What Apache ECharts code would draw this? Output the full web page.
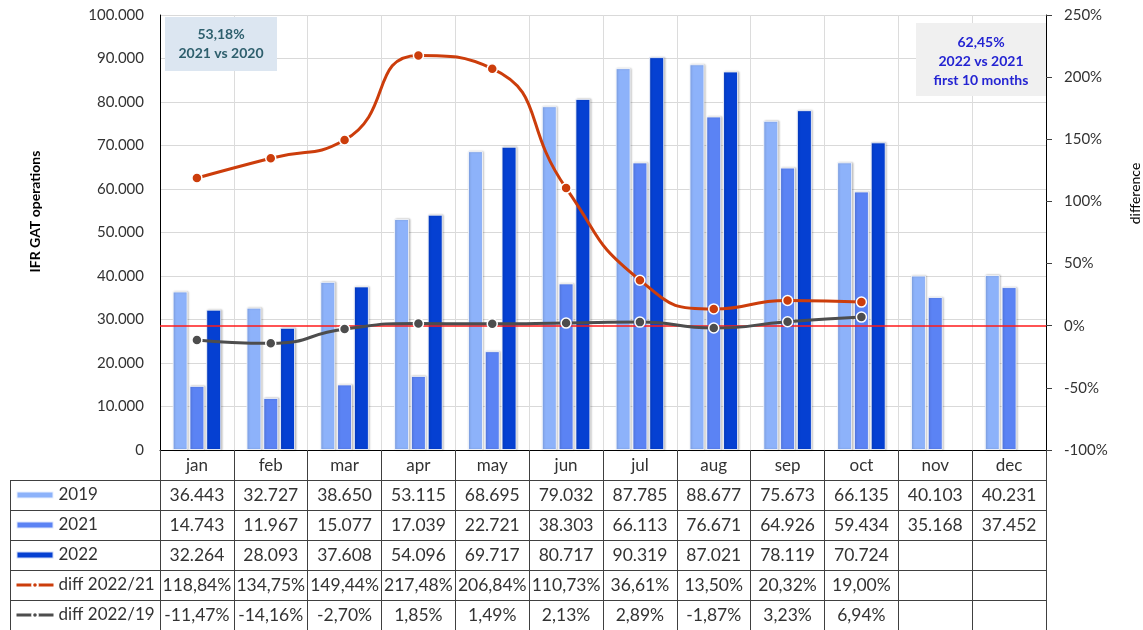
<!DOCTYPE html>
<html>
<head>
<meta charset="utf-8">
<script src="https://cdn.jsdelivr.net/npm/echarts@6/dist/echarts.min.js"></script>
<style>
html,body{margin:0;padding:0;background:#fff;}
#c{width:1143px;height:630px;}
</style>
</head>
<body>
<div id="c"></div>
<script>
var months = ['jan','feb','mar','apr','may','jun','jul','aug','sep','oct','nov','dec'];
var ops2019 = [36443, 32727, 38650, 53115, 68695, 79032, 87785, 88677, 75673, 66135, 40103, 40231];
var ops2021 = [14743, 11967, 15077, 17039, 22721, 38303, 66113, 76671, 64926, 59434, 35168, 37452];
var ops2022 = [32264, 28093, 37608, 54096, 69717, 80717, 90319, 87021, 78119, 70724, null, null];
var diff2221 = [118.84, 134.75, 149.44, 217.48, 206.84, 110.73, 36.61, 13.50, 20.32, 19.00, null, null];
var diff2219 = [-11.47, -14.16, -2.70, 1.85, 1.49, 2.13, 2.89, -1.87, 3.23, 6.94, null, null];
var leftTicks = {min: 0, max: 100000, interval: 10000};
var rightTicks = {min: -100, max: 250, interval: 50};
var note1 = ['53,18%', '2021 vs 2020'];
var note2 = ['62,45%', '2022 vs 2021', 'first 10 months'];

var FONT = 'Lato, "Noto Sans", sans-serif';
function fmtInt(v) {
  if (v === null || v === undefined) return '';
  if (v < 1000) return String(v);
  var th = Math.floor(v / 1000), r = v % 1000;
  return th + '.' + ('00' + r).slice(-3);
}
function fmtPct(v) {
  if (v === null || v === undefined) return '';
  return v.toFixed(2).replace('.', ',') + '%';
}

var W = 1143, H = 630;
var gL = 160, gR = 97, gT = 15, gB = 180;
var rowH = 30;
var axisY = H - gB;

var rows = [ops2019.map(fmtInt), ops2021.map(fmtInt), ops2022.map(fmtInt), diff2221.map(fmtPct), diff2219.map(fmtPct)];

var xAxes = [{
  type: 'category', data: months, gridIndex: 0, position: 'bottom',
  axisLine: {show: true, onZero: false, lineStyle: {color: '#000', width: 1}},
  axisTick: {show: true, length: rowH, interval: 0, lineStyle: {color: '#404040'}},
  axisLabel: {margin: 7, fontSize: 17, color: '#333', fontFamily: FONT, interval: 0},
  splitLine: {show: true, interval: 0, lineStyle: {color: '#dcdcdc'}}
}];
rows.forEach(function (r, k) {
  xAxes.push({
    type: 'category', data: r, gridIndex: 0, position: 'bottom', offset: rowH * (k + 1),
    axisLine: {show: true, onZero: false, lineStyle: {color: '#404040', width: 1}},
    axisTick: {show: true, length: rowH, interval: 0, lineStyle: {color: '#404040'}},
    axisLabel: {margin: 6, fontSize: 17.5, color: '#333', fontFamily: FONT, interval: 0},
    splitLine: {show: false}
  });
});

var graphics = [];
for (var k = 1; k <= 5; k++) {
  graphics.push({type: 'line', shape: {x1: 10, y1: axisY + rowH * k + 0.5, x2: gL, y2: axisY + rowH * k + 0.5}, style: {stroke: '#404040', lineWidth: 1}, silent: true});
}
graphics.push({type: 'line', shape: {x1: 10.5, y1: axisY + rowH, x2: 10.5, y2: H}, style: {stroke: '#404040', lineWidth: 1}, silent: true});
graphics.push({type: 'rect', shape: {x: 165, y: 17, width: 112, height: 54}, style: {fill: '#dce6f1'}, z: 100, silent: true});
graphics.push({type: 'text', x: 221, y: 44, style: {text: note1.join('\n'), font: 'bold 14px ' + FONT, fill: '#2e5f6d', textAlign: 'center', textVerticalAlign: 'middle', lineHeight: 19}, z: 101, silent: true});
graphics.push({type: 'rect', shape: {x: 916, y: 23, width: 130, height: 73}, style: {fill: '#f0f0f0'}, z: 100, silent: true});
graphics.push({type: 'text', x: 981, y: 61, style: {text: note2.join('\n'), font: 'bold 14px ' + FONT, fill: '#2424d2', textAlign: 'center', textVerticalAlign: 'middle', lineHeight: 19}, z: 101, silent: true});

var barStyle = function (c) {
  return {color: c, borderColor: 'rgba(255,255,255,0.8)', borderWidth: 1, shadowColor: 'rgba(0,0,0,0.25)', shadowBlur: 2, shadowOffsetX: 1};
};

var option = {
  animation: false,
  backgroundColor: '#fff',
  textStyle: {fontFamily: FONT},
  grid: {left: gL, right: gR, top: gT, bottom: gB, containLabel: false, outerBoundsMode: 'none'},
  legend: {
    orient: 'vertical', left: 15, top: axisY + rowH, padding: 0,
    itemWidth: 37, itemHeight: 7, itemGap: 0,
    lineStyle: {width: 3},
    textStyle: {fontSize: 17, color: '#333', fontFamily: FONT, lineHeight: 30},
    data: [
      {name: '2019', icon: 'rect'},
      {name: '2021', icon: 'rect'},
      {name: '2022', icon: 'rect'},
      {name: 'diff 2022/21'},
      {name: 'diff 2022/19'}
    ],
    selectedMode: false
  },
  xAxis: xAxes,
  yAxis: [{
    type: 'value', min: leftTicks.min, max: leftTicks.max, interval: leftTicks.interval,
    name: 'IFR GAT operations', nameLocation: 'middle', nameGap: 118, nameRotate: 90,
    nameTextStyle: {fontSize: 14, fontWeight: 'bold', color: '#000', fontFamily: FONT, padding: [0, 0, 0, 42]},
    axisLine: {show: true, lineStyle: {color: '#000'}},
    axisTick: {show: false},
    axisLabel: {margin: 16, fontSize: 15, color: '#333', fontFamily: FONT, formatter: function (v) { return fmtInt(v); }},
    splitLine: {show: true, lineStyle: {color: '#d9d9d9'}}
  }, {
    type: 'value', position: 'right', min: rightTicks.min, max: rightTicks.max, interval: rightTicks.interval,
    name: 'difference', nameLocation: 'middle', nameGap: 82, nameRotate: 90,
    nameTextStyle: {fontSize: 14, color: '#000', fontFamily: FONT, padding: [0, 0, 0, 78]},
    axisLine: {show: true, lineStyle: {color: '#000'}},
    axisTick: {show: true, length: 6, lineStyle: {color: '#404040'}},
    axisLabel: {margin: 18, fontSize: 15, color: '#333', fontFamily: FONT, formatter: function (v) { return v + '%'; }},
    splitLine: {show: false}
  }],
  graphic: graphics,
  series: [
    {name: '2019', type: 'bar', data: ops2019, barWidth: 15, barGap: '12%', itemStyle: barStyle('#8db2fa')},
    {name: '2021', type: 'bar', data: ops2021, barWidth: 15, barGap: '12%', itemStyle: barStyle('#5b83f4')},
    {name: '2022', type: 'bar', data: ops2022, barWidth: 15, barGap: '12%', itemStyle: barStyle('#0540d2')},
    {name: 'diff 2022/21', type: 'line', yAxisIndex: 1, data: diff2221, smooth: 0.55, z: 5,
      symbol: 'circle', symbolSize: 10, showSymbol: true,
      lineStyle: {color: '#cc3d0b', width: 3},
      itemStyle: {color: '#cc3d0b', borderColor: '#fff', borderWidth: 1.5},
      markLine: {silent: true, symbol: 'none', label: {show: false}, data: [{yAxis: 0}],
        lineStyle: {color: '#ff1a1a', width: 1.5, type: 'solid'}}
    },
    {name: 'diff 2022/19', type: 'line', yAxisIndex: 1, data: diff2219, smooth: 0.55, z: 6,
      symbol: 'circle', symbolSize: 10, showSymbol: true,
      lineStyle: {color: '#4d4d4d', width: 3},
      itemStyle: {color: '#4d4d4d', borderColor: '#fff', borderWidth: 1.5}
    }
  ]
};
var chart = echarts.init(document.getElementById('c'), null, {renderer: 'canvas'});
chart.setOption(option);
</script>
</body>
</html>
